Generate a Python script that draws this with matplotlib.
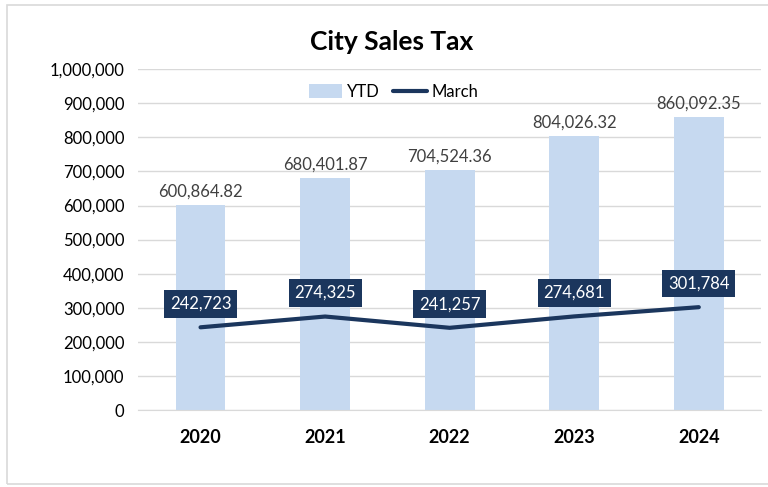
import matplotlib.pyplot as plt
from matplotlib.patches import Rectangle
from matplotlib.ticker import FuncFormatter

years = ['2020', '2021', '2022', '2023', '2024']
ytd = [600864.82, 680401.87, 704524.36, 804026.32, 860092.35]
march = [242723, 274325, 241257, 274681, 301784]

plt.rcParams['font.family'] = ['Lato', 'DejaVu Sans']

fig = plt.figure(figsize=(7.68, 4.87), dpi=100)
ax = fig.add_axes([0.18, 0.158, 0.811, 0.7])

x = list(range(len(years)))
bar_col = '#C6D9F0'
line_col = '#1B365D'

bars = ax.bar(x, ytd, width=0.4, color=bar_col, label='YTD', zorder=2)
line, = ax.plot(x, march, color=line_col, lw=3, label='March', zorder=3, solid_capstyle='round')

for i, v in enumerate(ytd):
    ax.annotate(f'{v:,.2f}', (i, v), xytext=(0, 4), textcoords='offset points',
                ha='center', va='bottom', fontsize=12, color='#404040')
for i, v in enumerate(march):
    ax.annotate(f'{v:,.0f}', (i, v), xytext=(0, 17), textcoords='offset points',
                ha='center', va='center', fontsize=12, color='white', zorder=5,
                bbox=dict(boxstyle='square,pad=0.35', fc=line_col, ec='none'))

ax.set_xlim(-0.5, 4.5)
ax.set_ylim(0, 1000000)
ax.set_yticks(range(0, 1000001, 100000))
ax.yaxis.set_major_formatter(FuncFormatter(lambda v, p: f'{v:,.0f}'))
ax.set_xticks(x)
ax.set_xticklabels(years, fontsize=13, fontweight='bold')
ax.tick_params(axis='y', labelsize=12, length=0, pad=10)
ax.tick_params(axis='x', length=0, pad=14)
ax.grid(axis='y', color='#D9D9D9', lw=1, zorder=0)
for s in ['top', 'right', 'left']:
    ax.spines[s].set_visible(False)
ax.spines['bottom'].set_color('#D9D9D9')

fig.text(0.51, 0.913, 'City Sales Tax', ha='center', va='center',
         fontsize=19, fontweight='bold')
ax.legend([bars, line], ['YTD', 'March'], loc='upper center', bbox_to_anchor=(0.41, 1.0),
          ncol=2, frameon=False, fontsize=12, handlelength=2.0, handleheight=0.9,
          handletextpad=0.3, columnspacing=0.8)

fig.patches.append(Rectangle((0.009, 0.006), 1.2, 0.984, transform=fig.transFigure,
                             fill=False, ec='#D9D9D9', lw=1.2))

fig.savefig('out.png', dpi=100)
